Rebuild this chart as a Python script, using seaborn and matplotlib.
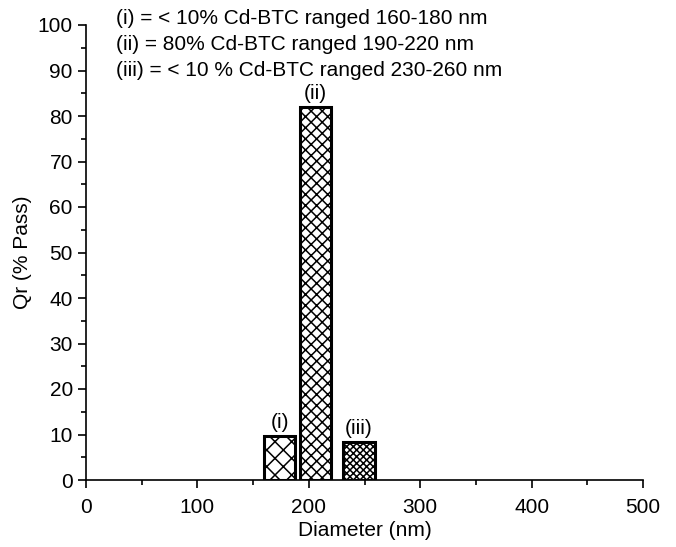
import matplotlib
matplotlib.use("Agg")
import matplotlib.pyplot as plt
import seaborn as sns
import pandas as pd
from matplotlib.ticker import MultipleLocator

sns.set_style("ticks")
plt.rcParams['font.family'] = ['Liberation Sans', 'DejaVu Sans']
plt.rcParams['hatch.linewidth'] = 1.1
plt.rcParams['text.color'] = 'black'
plt.rcParams['axes.labelcolor'] = 'black'

# Data
bar_centers = [174, 206, 245]   # nm (bins ~160-188, 192-220, 231-259)
bar_heights = [9.6, 82.0, 8.4]  # Qr (% Pass)
bar_labels = ["(i)", "(ii)", "(iii)"]
hatches = ["xx", "xxx", "xxxxx"]
notes = ["(i) = < 10% Cd-BTC ranged 160-180 nm",
         "(ii) = 80% Cd-BTC ranged 190-220 nm",
         "(iii) = < 10 % Cd-BTC ranged 230-260 nm"]

df = pd.DataFrame({"d": bar_centers, "q": bar_heights, "lab": bar_labels})

FS = 15
fig = plt.figure(figsize=(6.76, 5.47), dpi=100)
ax = fig.add_axes([86 / 676, 67 / 547, (643 - 86) / 676, (480 - 25) / 547])

sns.barplot(data=df, x="d", y="q", native_scale=True, width=28 / 32,
            color="white", edgecolor="black", linewidth=2.2, ax=ax,
            errorbar=None)

for p, h in zip(ax.patches, hatches):
    p.set_hatch(h)
    p.set_facecolor("white")
    p.set_edgecolor("black")

for c, h, l in zip(bar_centers, bar_heights, bar_labels):
    ax.annotate(l, (c, h), xytext=(0, 3), textcoords="offset points",
                ha="center", va="bottom", fontsize=FS, color="black")

ax.set_xlim(0, 500)
ax.set_ylim(0, 100)
ax.xaxis.set_major_locator(MultipleLocator(100))
ax.xaxis.set_minor_locator(MultipleLocator(50))
ax.yaxis.set_major_locator(MultipleLocator(10))
ax.yaxis.set_minor_locator(MultipleLocator(5))
ax.tick_params(which="major", length=6, width=1.2, labelsize=FS, pad=3.5,
               color="black", labelcolor="black")
ax.tick_params(axis="x", which="major", pad=7)
ax.tick_params(which="minor", length=3.5, width=1.2, color="black")
for s in ["top", "right"]:
    ax.spines[s].set_visible(False)
for s in ["left", "bottom"]:
    ax.spines[s].set_linewidth(1.2)
    ax.spines[s].set_color("black")

ax.set_xlabel("Diameter (nm)", fontsize=FS, labelpad=3, color="black")
ax.set_ylabel("Qr (% Pass)", fontsize=FS, labelpad=4, color="black")

for i, t in enumerate(notes):
    fig.text(116 / 676, 1 - (18 + 26 * i) / 547, t, fontsize=FS,
             ha="left", va="center", color="black")

fig.savefig("out.png", dpi=100)
